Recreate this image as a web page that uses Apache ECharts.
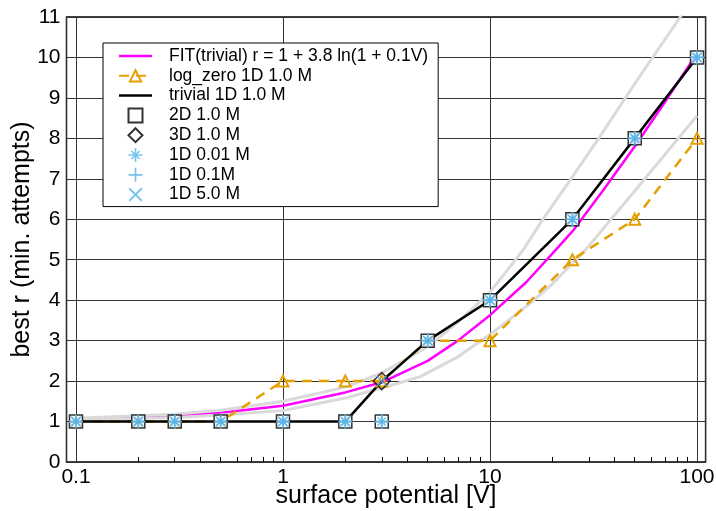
<!DOCTYPE html>
<html>
<head>
<meta charset="utf-8">
<script src="https://cdn.jsdelivr.net/npm/echarts@6/dist/echarts.min.js"></script>
<style>
  html, body { margin: 0; padding: 0; background: #fff; }
  #chart { width: 716px; height: 511px; }
</style>
</head>
<body>
<div id="chart"></div>
<script>
// measured points
const potentials = [0.1, 0.2, 0.3, 0.5, 1, 2, 3, 5, 10, 25, 50, 100];
const trivial1D = [1, 1, 1, 1, 1, 1, 2, 3, 4, 6, 8, 10];
const logZero1D = [1, 1, 1, 1, 2, 2, 2, 3, 3, 5, 6, 8];
const run2D = [1, 1, 1, 1, 1, 1, 1, 3, 4, 6, 8, 10];
const run3DPotentials = [3];
const run3D = [2];
const run1D001 = [1, 1, 1, 1, 1, 1, 1, 3, 4, 6, 8, 10];
const run1D01 = [1, 1, 1, 1, 1, 1, 1, 3, 4, 6, 8, 10];
const run1D5 = [1, 1, 1, 1, 1, 1, 2, 3, 4, 6, 8, 10];

// fit curve and the two grey bands
const fitPotentials = [0.1, 0.2, 0.5, 1, 2, 3, 5, 7, 10, 15, 20, 25, 35, 50, 70, 100];
const fitValues = [1.05, 1.1, 1.22, 1.39, 1.72, 1.97, 2.5, 3.0, 3.63, 4.45, 5.15, 5.7, 6.7, 7.8, 8.9, 10.1];
const upperPotentials = [0.1, 0.3, 0.5, 1, 2, 3, 5, 7, 10, 14.5, 18, 25, 34, 50, 83, 100];
const upperValues = [1.08, 1.18, 1.28, 1.5, 1.85, 2.2, 2.85, 3.45, 4.2, 5.25, 6.0, 7.05, 8.05, 9.35, 11, 11.6];
const lowerPotentials = [0.1, 0.3, 0.5, 1, 2, 3, 4.6, 7, 10, 15, 20, 29, 50, 70, 100];
const lowerValues = [1.03, 1.1, 1.16, 1.27, 1.58, 1.83, 2.11, 2.6, 3.15, 3.85, 4.4, 5.25, 6.7, 7.6, 8.56];

const minorTicks = [0.2, 0.3, 0.4, 0.5, 0.6, 0.7, 0.8, 0.9, 2, 3, 4, 5, 6, 7, 8, 9, 20, 30, 40, 50, 60, 70, 80, 90];

const font = 'Liberation Sans, Arial, sans-serif';
const blue = '#56B4E9';
const orange = '#E69F00';

const squarePath = 'path://M0,0H10V10H0Z';
const diamondPath = 'path://M5,0L10,5L5,10L0,5Z';
const linePath = 'path://M0,0H33V2.5H0Z';
const plusPath = 'path://M-1.2,-10H1.2V-1.2H10V1.2H1.2V10H-1.2V1.2H-10V-1.2H-1.2Z';
const crossPath = 'path://M-8.85,-7.15L-7.15,-8.85L8.85,7.15L7.15,8.85ZM-7.15,8.85L-8.85,7.15L7.15,-8.85L8.85,-7.15Z';
const starPath = 'path://M-1.2,-10H1.2V-1.2H10V1.2H1.2V10H-1.2V1.2H-10V-1.2H-1.2Z' +
  'M-6.6,-5.0L-5.0,-6.6L6.6,5.0L5.0,6.6ZM-5.0,6.6L-6.6,5.0L5.0,-6.6L6.6,-5.0Z';

const fitName = 'FIT(trivial) r = 1 + 3.8 ln(1 + 0.1V)';

function pairs (xs, ys) {
  return xs.map((x, i) => [x, ys[i]]);
}

const chart = echarts.init(document.getElementById('chart'));
chart.setOption({
  animation: false,
  backgroundColor: '#fff',
  grid: {
    left: 66.5,
    right: 10.4,
    top: 17,
    bottom: 49,
    outerBoundsMode: 'none',
    containLabel: false,
    show: true,
    borderColor: '#000',
    borderWidth: 1.5,
    backgroundColor: 'transparent'
  },
  legend: {
    orient: 'vertical',
    left: 103,
    top: 43,
    padding: [4, 10, 3, 15],
    borderColor: '#000',
    borderWidth: 1,
    backgroundColor: '#fff',
    itemWidth: 33,
    itemHeight: 14,
    itemGap: 1.8,
    textStyle: {
      fontFamily: font,
      fontSize: 17.5,
      color: '#000',
      padding: [0, 0, 0, 12]
    },
    data: [
      { name: fitName, icon: linePath },
      'log_zero 1D 1.0 M',
      { name: 'trivial 1D 1.0 M', icon: linePath },
      { name: '2D 1.0 M', icon: squarePath },
      { name: '3D 1.0 M', icon: diamondPath },
      '1D 0.01 M', '1D 0.1M', '1D 5.0 M'
    ]
  },
  xAxis: [{
    type: 'log',
    logBase: 10,
    min: 0.09,
    max: 110,
    name: 'surface potential [V]',
    nameLocation: 'middle',
    nameGap: 22,
    nameMoveOverlap: false,
    nameTextStyle: { fontFamily: font, fontSize: 25, color: '#000' },
    axisLine: { show: false },
    axisTick: { show: false },
    axisLabel: {
      fontFamily: font,
      fontSize: 21,
      color: '#000',
      margin: 5,
      showMinLabel: false,
      showMaxLabel: false,
      formatter: v => String(v)
    },
    splitLine: { show: true, lineStyle: { color: '#333', width: 1 } }
  }, {
    type: 'log',
    logBase: 10,
    min: 0.09,
    max: 110,
    position: 'bottom',
    axisLine: { show: false },
    axisLabel: { show: false },
    splitLine: { show: false },
    axisTick: {
      show: true,
      inside: true,
      length: 5,
      customValues: minorTicks,
      lineStyle: { color: '#000', width: 1 }
    }
  }],
  yAxis: {
    type: 'value',
    min: 0,
    max: 11,
    interval: 1,
    name: 'best r (min. attempts)',
    nameLocation: 'middle',
    nameGap: 32,
    nameMoveOverlap: false,
    nameTextStyle: { fontFamily: font, fontSize: 25, color: '#000' },
    axisLine: { show: false },
    axisTick: { show: false },
    axisLabel: { fontFamily: font, fontSize: 21, color: '#000', margin: 6 },
    splitLine: { show: true, lineStyle: { color: '#333', width: 1 } }
  },
  series: [
    {
      name: fitName,
      type: 'line',
      data: pairs(fitPotentials, fitValues),
      symbol: 'none',
      color: '#ff00ff',
      lineStyle: { color: '#ff00ff', width: 2.5 }
    },
    {
      name: 'upper',
      type: 'line',
      data: pairs(upperPotentials, upperValues),
      symbol: 'none',
      lineStyle: { color: '#dadada', width: 3 }
    },
    {
      name: 'lower',
      type: 'line',
      data: pairs(lowerPotentials, lowerValues),
      symbol: 'none',
      lineStyle: { color: '#dadada', width: 3 }
    },
    {
      name: 'log_zero 1D 1.0 M',
      type: 'line',
      data: pairs(potentials, logZero1D),
      symbol: 'triangle',
      symbolSize: 11,
      showAllSymbol: true,
      itemStyle: { color: 'rgba(255,255,255,0)', borderColor: orange, borderWidth: 2 },
      lineStyle: { color: orange, width: 2.5, type: [10, 7] }
    },
    {
      name: 'trivial 1D 1.0 M',
      type: 'line',
      data: pairs(potentials, trivial1D),
      symbol: 'none',
      color: '#000',
      lineStyle: { color: '#000', width: 2.5 }
    },
    {
      name: '2D 1.0 M',
      type: 'scatter',
      z: 3,
      data: pairs(potentials, run2D),
      symbol: squarePath,
      symbolSize: 13,
      itemStyle: { color: '#fff', borderColor: '#000', borderWidth: 1.5 }
    },
    {
      name: '3D 1.0 M',
      type: 'scatter',
      z: 3,
      data: pairs(run3DPotentials, run3D),
      symbol: diamondPath,
      symbolSize: 17,
      itemStyle: { color: 'rgba(255,255,255,0)', borderColor: '#000', borderWidth: 1.5 }
    },
    {
      name: '1D 0.01 M',
      type: 'scatter',
      z: 3,
      data: pairs(potentials, run1D001),
      symbol: starPath,
      symbolSize: 14,
      itemStyle: { color: blue }
    },
    {
      name: '1D 0.1M',
      type: 'scatter',
      z: 3,
      data: pairs(potentials, run1D01),
      symbol: plusPath,
      symbolSize: 14,
      itemStyle: { color: blue }
    },
    {
      name: '1D 5.0 M',
      type: 'scatter',
      z: 3,
      data: pairs(potentials, run1D5),
      symbol: crossPath,
      symbolSize: 11,
      itemStyle: { color: blue }
    }
  ]
});
</script>
</body>
</html>
